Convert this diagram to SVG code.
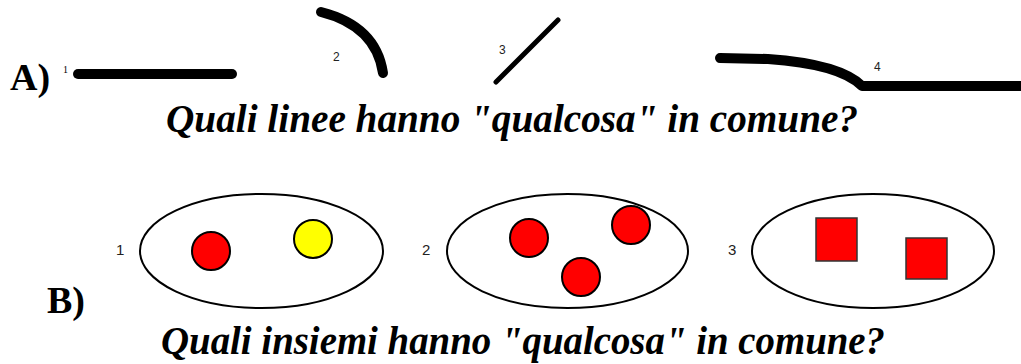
<svg xmlns="http://www.w3.org/2000/svg" width="1021" height="364" viewBox="0 0 1021 364">
<style>
.big{font-family:"Liberation Serif","Times New Roman",serif;font-weight:bold;font-size:38px;fill:#000}
.q{font-family:"Liberation Serif","Times New Roman",serif;font-weight:700;font-style:italic;font-size:39.5px;fill:#000}
.n{font-family:"Liberation Sans",Arial,sans-serif;font-size:12px;fill:#222}
.m{font-family:"Liberation Sans",Arial,sans-serif;font-size:15px;fill:#222}
.ln{fill:none;stroke:#000;stroke-linecap:round;stroke-linejoin:round}
.set{fill:#fff;stroke:#000;stroke-width:2}
.red{fill:#ff0000;stroke:#000;stroke-width:2}
.yel{fill:#ffff00;stroke:#000;stroke-width:2}
.sq{fill:#ff0000;stroke:#333;stroke-width:1.5}
</style>
<rect width="1021" height="364" fill="#fff"/>
<g id="partA">
<text class="big" x="10" y="90">A)</text>
<g id="line1"><text x="63" y="73" font-family="Liberation Serif, serif" font-size="10">1</text><path class="ln" d="M78,74 L232,74" stroke-width="10"/></g>
<g id="line2"><text class="n" x="333" y="61">2</text><path class="ln" d="M321,12 Q376,26 383,73" stroke-width="10"/></g>
<g id="line3"><text class="n" x="499" y="54">3</text><path class="ln" d="M496,82 L558,20" stroke-width="5"/></g>
<g id="line4"><text class="n" x="874" y="71">4</text><path class="ln" d="M720,58 L768,59 Q840,64 862,86 L1025,86" stroke-width="10"/></g>
<text id="questionA" class="q" x="166" y="132" textLength="692" lengthAdjust="spacingAndGlyphs">Quali linee hanno "qualcosa" in comune?</text>
</g>
<g id="partB">
<text class="big" x="47" y="313">B)</text>
<g id="set1">
<text class="m" x="116" y="255">1</text>
<ellipse class="set" cx="261.5" cy="251" rx="121.5" ry="57"/>
<circle class="red" cx="211" cy="251" r="19"/>
<circle class="yel" cx="313" cy="239" r="19"/>
</g>
<g id="set2">
<text class="m" x="422" y="255">2</text>
<ellipse class="set" cx="567.5" cy="251" rx="120.5" ry="57"/>
<circle class="red" cx="529" cy="238" r="19"/>
<circle class="red" cx="631" cy="225" r="19"/>
<circle class="red" cx="581" cy="277" r="19"/>
</g>
<g id="set3">
<text class="m" x="728" y="255">3</text>
<ellipse class="set" cx="873" cy="251" rx="121" ry="57"/>
<rect class="sq" x="816" y="218" width="41" height="43"/>
<rect class="sq" x="906" y="238" width="41" height="41"/>
</g>
<text id="questionB" class="q" x="161" y="354" textLength="724" lengthAdjust="spacingAndGlyphs">Quali insiemi hanno "qualcosa" in comune?</text>
</g>
</svg>
